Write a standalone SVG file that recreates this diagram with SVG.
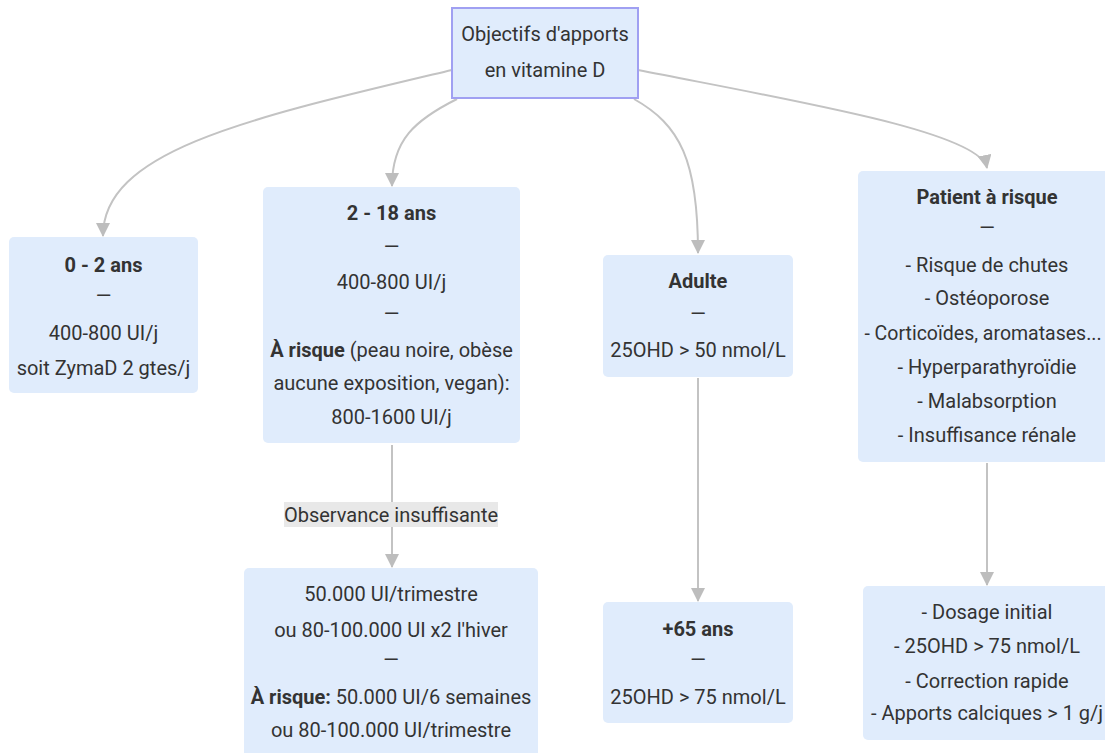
<svg xmlns="http://www.w3.org/2000/svg" width="1105" height="753" viewBox="0 0 1105 753">
<defs>
<marker id="arr" viewBox="0 0 14 14" markerWidth="14" markerHeight="14" refX="13" refY="7" orient="auto" markerUnits="userSpaceOnUse">
<path d="M0,0 L14,7 L0,14 z" fill="#bdbdbd"/>
</marker>
<style>
.box{fill:#e0ecfc;}
.root{fill:#e0ecfc;stroke:#a0a0f2;stroke-width:2;}
text{font-family:Roboto,"Liberation Sans",sans-serif;font-size:20px;fill:#333;text-anchor:middle;}
.b{font-weight:bold;}
.edge{fill:none;stroke:#c3c3c3;stroke-width:2;marker-end:url(#arr);}
.lbl{fill:#e8e8e8;}
</style>
</defs>
<rect width="1105" height="753" fill="#ffffff"/>
<g id="edges">
<path class="edge" d="M452,70 C250,118 103,150 103,236"/>
<path class="edge" d="M457,99 C415,120 392,140 392,186"/>
<path class="edge" d="M634,99 C680,125 698,160 698,253"/>
<path class="edge" d="M638,70 C800,102 980,132 987,168"/>
<path class="edge" d="M392,445 L392,567"/>
<path class="edge" d="M698,378 L698,601"/>
<path class="edge" d="M987,463 L987,585"/>
<g id="edge-label">
<rect class="lbl" x="284" y="502" width="214" height="25"/>
<text x="391" y="522">Observance insuffisante</text>
</g>
</g>
<g id="root">
<rect class="root" x="452" y="8" width="186" height="90"/>
<text x="545" y="41">Objectifs d'apports</text>
<text x="545" y="77">en vitamine D</text>
</g>
<g id="n0-2">
<rect class="box" x="9" y="237" width="189" height="156" rx="5"/>
<text class="b" x="103.5" y="272">0 - 2 ans</text>
<text x="103.5" y="303">—</text>
<text x="103.5" y="340">400-800 UI/j</text>
<text x="103.5" y="375">soit ZymaD 2 gtes/j</text>
</g>
<g id="n2-18">
<rect class="box" x="263" y="187" width="257" height="256" rx="5"/>
<text class="b" x="391.5" y="220">2 - 18 ans</text>
<text x="391.5" y="254">—</text>
<text x="391.5" y="289">400-800 UI/j</text>
<text x="391.5" y="321">—</text>
<text x="391.5" y="357"><tspan class="b">À risque</tspan> (peau noire, obèse</text>
<text x="391.5" y="390">aucune exposition, vegan):</text>
<text x="391.5" y="424">800-1600 UI/j</text>
</g>
<g id="adulte">
<rect class="box" x="603" y="255" width="190" height="122" rx="5"/>
<text class="b" x="698" y="288">Adulte</text>
<text x="698" y="321">—</text>
<text x="698" y="357">25OHD &gt; 50 nmol/L</text>
</g>
<g id="patient">
<rect class="box" x="858" y="171" width="258" height="291" rx="5"/>
<text class="b" x="987" y="204">Patient à risque</text>
<text x="987" y="235">—</text>
<text x="987" y="272">- Risque de chutes</text>
<text x="987" y="305">- Ostéoporose</text>
<text x="983" y="340" style="font-size:19.5px">- Corticoïdes, aromatases...</text>
<text x="987" y="374">- Hyperparathyroïdie</text>
<text x="987" y="408">- Malabsorption</text>
<text x="987" y="442">- Insuffisance rénale</text>
</g>
<g id="observance">
<rect class="box" x="244" y="568" width="294" height="192" rx="5"/>
<text x="391" y="601">50.000 UI/trimestre</text>
<text x="391" y="637">ou 80-100.000 UI x2 l'hiver</text>
<text x="391" y="667">—</text>
<text x="391" y="704"><tspan class="b">À risque:</tspan> 50.000 UI/6 semaines</text>
<text x="391" y="737">ou 80-100.000 UI/trimestre</text>
</g>
<g id="plus65">
<rect class="box" x="603" y="602" width="190" height="121" rx="5"/>
<text class="b" x="698" y="636">+65 ans</text>
<text x="698" y="667">—</text>
<text x="698" y="704">25OHD &gt; 75 nmol/L</text>
</g>
<g id="dosage">
<rect class="box" x="863" y="586" width="248" height="154" rx="5"/>
<text x="987" y="619">- Dosage initial</text>
<text x="987" y="653">- 25OHD &gt; 75 nmol/L</text>
<text x="987" y="688">- Correction rapide</text>
<text x="987" y="720">- Apports calciques &gt; 1 g/j</text>
</g>
</svg>
